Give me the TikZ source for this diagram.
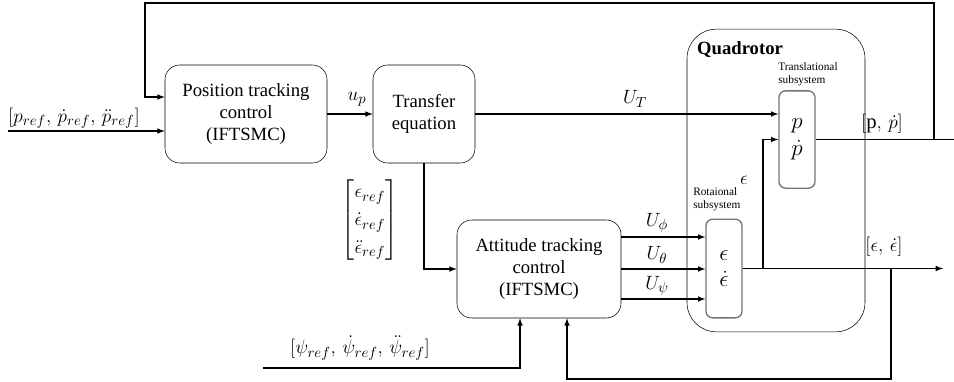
\documentclass[tikz,border=0pt]{standalone}
\usepackage{amsmath}
\usepackage{fontspec}
\setmainfont{Liberation Serif}
\usetikzlibrary{positioning}

\tikzset{
  blk/.style={draw, rounded corners=11pt, align=center, inner sep=0pt,
    font=\fontsize{14}{16.5}\selectfont},
  subblk/.style={draw=black!55, line width=1pt, rounded corners=5pt,
    minimum width=27pt, inner sep=0pt, align=center,
    font=\fontsize{16}{19}\selectfont},
  lbl/.style={font=\fontsize{15.5}{19}\selectfont, inner sep=0pt},
  small/.style={font=\fontsize{8.5}{10}\selectfont, align=left, inner sep=0pt, anchor=north west},
  wire/.style={line width=0.9pt, >=latex},
}

\begin{document}
\begin{tikzpicture}[x=0.75pt,y=-0.75pt]
\useasboundingbox (0,0) rectangle (954,382);

% blocks
\node [blk, minimum width=121.5pt, minimum height=73.5pt] (pos) at (246,114)
  {Position tracking\\control\\(IFTSMC)};
\node [blk, minimum width=76.5pt, minimum height=73.5pt] (tr) at (424,114)
  {Transfer\\equation};
\node [blk, minimum width=123pt, minimum height=73.5pt] (att) at (539,269)
  {Attitude tracking\\control\\(IFTSMC)};
\node [draw, rounded corners=22pt, minimum width=133.5pt, minimum height=227pt] (quad) at (776,180.5) {};
\node [font=\fontsize{14}{16}\selectfont\bfseries, inner sep=0pt] (qlab) at (740,50) {Quadrotor};
\node [subblk, minimum height=73pt] (tsub) at (797,139.5) {$p$\\[1pt]$\dot{p}$};
\node [subblk, minimum height=74pt] (rsub) at (724,268.5) {$\epsilon$\\[1pt]$\dot{\epsilon}$};
\node [small] (tlab) at (778,62) {Translational\\subsystem};
\node [small] (rlab) at (693,187) {Rotaional\\subsystem};

% free ends and branch points
\coordinate (pin) at (8,131);
\coordinate (top) at (145,3);
\coordinate (tap1) at (934,139.5);
\coordinate (pout) at (954,139.5);
\coordinate (br1) at (763,268.5);
\coordinate (br2) at (891,268.5);
\coordinate (eout) at (943,268.5);
\coordinate (bot) at (567,379);
\coordinate (psin) at (263,368);

% connectors
\draw [wire,->] (pin) -- ([yshift=-12.75pt]pos.west);
\draw [wire,->] (tap1) |- (top) |- ([yshift=12.75pt]pos.west);
\draw [wire,->] (pos.east) -- (tr.west);
\draw [wire,->] (tr.east) -- (tr.east -| tsub.west);
\draw [wire,->] (tr.south) |- (att.west);
\draw [wire,->] ([yshift=24pt]att.east) -- ([yshift=24pt]att.east -| rsub.west);
\draw [wire,->] (att.east) -- (att.east -| rsub.west);
\draw [wire,->] ([yshift=-22.5pt]att.east) -- ([yshift=-22.5pt]att.east -| rsub.west);
\draw [wire,->] (rsub.east) -- (eout);
\draw [wire,->] (br1) |- (tsub.west);
\draw [wire] (tsub.east) -- (pout);
\draw [wire,->] (br2) |- (bot) -- (bot |- att.south);
\draw [wire,->] (psin) -| ([xshift=-14.25pt]att.south);

% labels
\node [lbl] (lpref) at (74,118) {$[p_{ref},\,\dot{p}_{ref},\,\ddot{p}_{ref}]$};
\node [lbl] (lup) at (357,99) {$u_p$};
\node [lbl] (lut) at (635,99) {$U_T$};
\node [lbl] (leref) at (370,220) {$\renewcommand{\arraystretch}{1.1}\begin{bmatrix}\epsilon_{ref}\\ \dot{\epsilon}_{ref}\\ \ddot{\epsilon}_{ref}\end{bmatrix}$};
\node [lbl] (lphi) at (657,223) {$U_\phi$};
\node [lbl] (ltheta) at (657,255) {$U_\theta$};
\node [lbl] (lpsi) at (657,286) {$U_\psi$};
\node [lbl] (lpsiref) at (360,348) {$[\psi_{ref},\,\dot{\psi}_{ref},\,\ddot{\psi}_{ref}]$};
\node [lbl] (leps) at (744,180) {$\epsilon$};
\node [lbl] (lpp) at (882,124) {$[\mathrm{p},\,\dot{p}]$};
\node [lbl] (lee) at (884,247) {$[\epsilon,\,\dot{\epsilon}]$};
\end{tikzpicture}
\end{document}
